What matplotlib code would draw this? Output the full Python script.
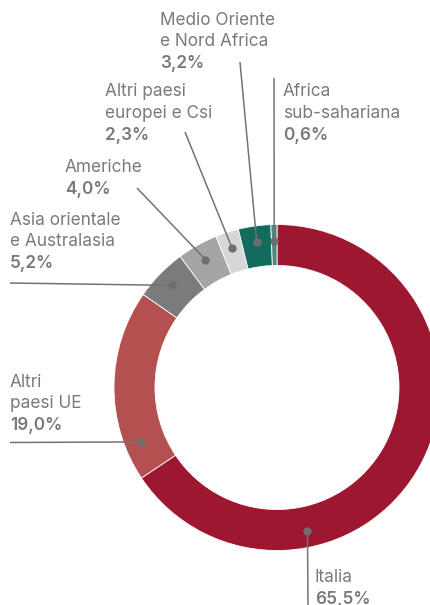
import numpy as np
import matplotlib
matplotlib.use("Agg")
import matplotlib.pyplot as plt

plt.rcParams['font.family'] = ['Inter', 'DejaVu Sans']

# dati (in senso orario dall'alto)
aree = ['Italia', 'Altri paesi UE', 'Asia orientale e Australasia', 'Americhe',
        'Altri paesi europei e Csi', 'Medio Oriente e Nord Africa', 'Africa sub-sahariana']
quote = [65.5, 19.0, 5.2, 4.0, 2.3, 3.2, 0.6]
etichette = [['Italia'], ['Altri', 'paesi UE'], ['Asia orientale', 'e Australasia'], ['Americhe'],
             ['Altri paesi', 'europei e Csi'], ['Medio Oriente', 'e Nord Africa'], ['Africa', 'sub-sahariana']]
colori = ['#9E1730', '#B55051', '#7A7B7A', '#A4A5A4', '#D6D7D6', '#136B5E', '#4F877C']

W, H = 431, 605
grigio_testo = '#7A7A7A'
grigio_linea = '#737373'

fig = plt.figure(figsize=(W / 100, H / 100), dpi=100)
ax = fig.add_axes([0, 0, 1, 1])

cx, cy, R, spessore = 277, H - 387.5, 163, 41
wedges, _ = ax.pie(quote, colors=colori, startangle=90, counterclock=False,
                   radius=R, center=(cx, cy),
                   wedgeprops=dict(width=spessore, edgecolor='white', linewidth=0.6))
ax.set_xlim(0, W)
ax.set_ylim(0, H)
ax.set_aspect('auto')
ax.axis('off')

# posizione del testo (x, baseline della prima riga) e punto iniziale della linea guida, in pixel
layout_testo = [(315, 582), (10, 387), (10, 225), (65, 172), (105, 96.5), (160, 25), (283, 96.5)]
inizio_linea = [(308, 605), (10, 442.5), (10, 283), (137, 188), (185, 132), (240, 62), (274, 78)]
# angolo del punto sull'anello (None = centro dello spicchio)
angolo_punto = [282, 201.8, None, None, None, None, None]

for i, w in enumerate(wedges):
    x0, y0 = layout_testo[i]
    righe = etichette[i]
    for k, r in enumerate(righe):
        ax.text(x0, H - (y0 + 21.5 * k), r, fontsize=12.4, color=grigio_testo,
                ha='left', va='baseline')
    ax.text(x0, H - (y0 + 21.5 * len(righe)), f"{quote[i]:.1f}%".replace('.', ','),
            fontsize=12.4, fontweight='semibold', color=grigio_testo, ha='left', va='baseline')

    a = angolo_punto[i]
    if a is None:
        a = (w.theta1 + w.theta2) / 2
    rr = R - spessore / 2 + 4
    px = cx + rr * np.cos(np.radians(a))
    py = cy + rr * np.sin(np.radians(a))
    lx, ly = inizio_linea[i]
    ax.plot([lx, px], [H - ly, py], color=grigio_linea, lw=1.1, solid_capstyle='butt')
    ax.plot(px, py, 'o', ms=6, color='#6E6E6E', mec='none')

fig.savefig('out.png', dpi=100)
